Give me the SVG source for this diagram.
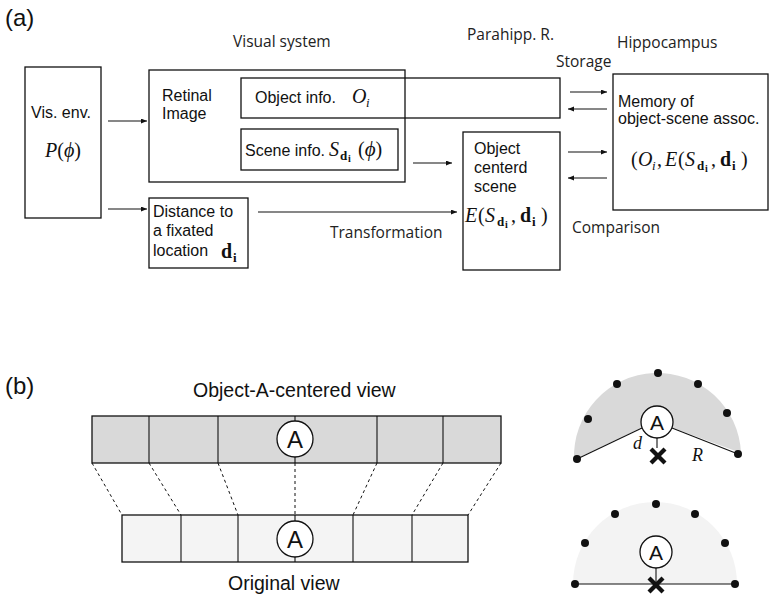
<svg xmlns="http://www.w3.org/2000/svg" width="769" height="601" viewBox="0 0 769 601">
<style>
.bx{fill:none;stroke:#111;stroke-width:1.3}
.ln{stroke:#111;stroke-width:1.1;fill:none}
.ar{stroke:#111;stroke-width:1.1;fill:none;marker-end:url(#ah)}
.h{font-family:"Liberation Sans",Arial,sans-serif;font-size:16px;fill:#111}
.big{font-family:"Liberation Sans",Arial,sans-serif;font-size:19.5px;fill:#111}
.pl{font-family:"Liberation Sans",Arial,sans-serif;font-size:24px;fill:#111}
.lab{font-family:"Open Sans","Noto Sans",sans-serif;font-size:15.5px;fill:#222}
.m{font-family:"Liberation Serif","DejaVu Serif",serif;font-size:20px;fill:#111}
.i{font-style:italic}
.sb{font-size:13px;font-weight:bold;font-style:normal}
.ssb{font-size:10px;font-weight:bold;font-style:normal}
.si{font-size:13px;font-style:italic}
.dash{stroke:#111;stroke-width:1;stroke-dasharray:3,3;fill:none}
.cir{fill:#fff;stroke:#111;stroke-width:1.3}
.ca{font-family:"Liberation Sans",Arial,sans-serif;font-size:24px;fill:#111;text-anchor:middle}
.cas{font-family:"Liberation Sans",Arial,sans-serif;font-size:21px;fill:#111;text-anchor:middle}
.dot{fill:#111}
.x{stroke:#111;stroke-width:4.2;stroke-linecap:butt}
</style>
<defs>
<marker id="ah" markerUnits="userSpaceOnUse" markerWidth="7" markerHeight="6" refX="6" refY="2.5" orient="auto">
<path d="M0,0 L6,2.5 L0,5 z" fill="#111"/>
</marker>
</defs>

<text class="pl" x="5" y="26">(a)</text>
<text class="lab" x="233" y="47">Visual system</text>
<text class="lab" x="467" y="40">Parahipp. R.</text>
<text class="lab" x="617" y="48">Hippocampus</text>
<text class="lab" x="556" y="67">Storage</text>
<text class="lab" x="330" y="238">Transformation</text>
<text class="lab" x="572" y="233">Comparison</text>

<g id="visenv">
<rect class="bx" x="25" y="67" width="76" height="151"/>
<text class="h" x="31" y="118">Vis. env.</text>
<text class="m" x="45" y="157"><tspan class="i">P</tspan>(<tspan class="i">ϕ</tspan>)</text>
</g>

<g id="retinal">
<rect class="bx" x="149" y="70" width="256" height="112"/>
<text class="h" x="162" y="101">Retinal</text>
<text class="h" x="162" y="119">Image</text>
</g>

<g id="objinfo">
<rect class="bx" x="241" y="78" width="319" height="40"/>
<text class="h" x="255" y="103">Object info.</text>
<text class="m" y="103"><tspan class="i" x="352">O</tspan><tspan class="si" x="366" y="107">i</tspan></text>
</g>

<g id="sceneinfo">
<rect class="bx" x="241" y="129" width="157" height="41"/>
<text class="h" x="245" y="156">Scene info.</text>
<text class="m" y="156"><tspan class="i" x="329">S</tspan><tspan class="sb" x="340" y="160">d</tspan><tspan class="ssb" x="348" y="162">i</tspan><tspan x="358" y="156">(</tspan><tspan class="i" style="font-size:21px">ϕ</tspan><tspan>)</tspan></text>
</g>

<g id="distance">
<rect class="bx" x="149" y="198" width="99" height="70"/>
<text class="h" x="153" y="217">Distance to</text>
<text class="h" x="153" y="236">a fixated</text>
<text class="h" x="153" y="256">location</text>
<text class="m" y="258"><tspan x="221" font-weight="bold">d</tspan><tspan class="sb" x="233" y="262">i</tspan></text>
</g>

<g id="objcentered">
<rect class="bx" x="463" y="132" width="97" height="138"/>
<text class="h" x="474" y="154">Object</text>
<text class="h" x="474" y="173">centerd</text>
<text class="h" x="474" y="192">scene</text>
<text class="m" y="222"><tspan class="i" x="465">E</tspan><tspan x="478">(</tspan><tspan class="i" x="485">S</tspan><tspan class="sb" x="497" y="226">d</tspan><tspan class="ssb" x="505" y="228">i</tspan><tspan x="511" y="222">,</tspan><tspan x="520" font-weight="bold">d</tspan><tspan class="sb" x="532" y="226">i</tspan><tspan x="541" y="222">)</tspan></text>
</g>

<g id="memory">
<rect class="bx" x="613" y="74" width="155" height="136"/>
<text class="h" x="618" y="107">Memory of</text>
<text class="h" x="618" y="124">object-scene assoc.</text>
<text class="m" y="166"><tspan x="631">(</tspan><tspan class="i" x="638">O</tspan><tspan class="si" x="652" y="170">i</tspan><tspan x="657" y="166">,</tspan><tspan class="i" x="665">E</tspan><tspan x="678">(</tspan><tspan class="i" x="685">S</tspan><tspan class="sb" x="697" y="170">d</tspan><tspan class="ssb" x="705" y="172">i</tspan><tspan x="711" y="166">,</tspan><tspan x="720" font-weight="bold">d</tspan><tspan class="sb" x="732" y="170">i</tspan><tspan x="741" y="166">)</tspan></text>
</g>

<g id="connectors">
<line class="ar" x1="108" y1="121" x2="147" y2="121"/>
<line class="ar" x1="108" y1="209" x2="147" y2="209"/>
<line class="ar" x1="258" y1="212" x2="457" y2="212"/>
<line class="ar" x1="413" y1="163" x2="452" y2="163"/>
<line class="ar" x1="570" y1="92" x2="607" y2="92"/>
<line class="ar" x1="607" y1="109" x2="568" y2="109"/>
<line class="ar" x1="568" y1="152" x2="607" y2="152"/>
<line class="ar" x1="607" y1="178" x2="568" y2="178"/>
</g>

<text class="pl" x="5" y="394">(b)</text>
<text class="big" x="193" y="397">Object-A-centered view</text>
<text class="big" x="228" y="590">Original view</text>

<g id="centered-view">
<rect x="92" y="416" width="409" height="47" fill="#d9d9d9" stroke="#111" stroke-width="1.3"/>
<line class="ln" x1="149" y1="416" x2="149" y2="463"/>
<line class="ln" x1="218" y1="416" x2="218" y2="463"/>
<line class="ln" x1="295" y1="416" x2="295" y2="463"/>
<line class="ln" x1="377" y1="416" x2="377" y2="463"/>
<line class="ln" x1="443" y1="416" x2="443" y2="463"/>
<circle class="cir" cx="295" cy="439" r="18"/>
<text class="ca" x="295" y="448">A</text>
</g>

<g id="original-view">
<rect x="122" y="515" width="346" height="47" fill="#f4f4f4" stroke="#111" stroke-width="1.3"/>
<line class="ln" x1="181" y1="515" x2="181" y2="562"/>
<line class="ln" x1="238" y1="515" x2="238" y2="562"/>
<line class="ln" x1="295" y1="515" x2="295" y2="562"/>
<line class="ln" x1="353" y1="515" x2="353" y2="562"/>
<line class="ln" x1="412" y1="515" x2="412" y2="562"/>
<circle class="cir" cx="295" cy="539" r="18"/>
<text class="ca" x="295" y="548">A</text>
</g>

<g id="mapping">
<line class="dash" x1="92" y1="463" x2="122" y2="515"/>
<line class="dash" x1="149" y1="463" x2="181" y2="515"/>
<line class="dash" x1="218" y1="463" x2="238" y2="515"/>
<line class="dash" x1="295" y1="463" x2="295" y2="515"/>
<line class="dash" x1="377" y1="463" x2="353" y2="515"/>
<line class="dash" x1="443" y1="463" x2="412" y2="515"/>
<line class="dash" x1="501" y1="463" x2="468" y2="515"/>
</g>

<g id="fan-centered">
<path d="M574,460 A83,83 0 0 1 741,453 L673,428 L641,428 Z" fill="#d9d9d9"/>
<line class="ln" x1="577" y1="459" x2="642" y2="428"/>
<line class="ln" x1="672" y1="428" x2="738" y2="454"/>
<line class="ln" x1="657" y1="438" x2="657" y2="448"/>
<circle class="cir" cx="657" cy="422" r="16"/>
<text class="cas" x="657" y="430">A</text>
<line class="x" x1="651" y1="449" x2="665" y2="463"/>
<line class="x" x1="665" y1="449" x2="651" y2="463"/>
<text class="m i" x="633" y="449" style="font-size:18px">d</text>
<text class="m i" x="692" y="461" style="font-size:18px">R</text>
<circle class="dot" cx="658" cy="373" r="4"/>
<circle class="dot" cx="617" cy="384" r="4"/>
<circle class="dot" cx="698" cy="384" r="4"/>
<circle class="dot" cx="588" cy="419" r="4"/>
<circle class="dot" cx="727" cy="413" r="4"/>
<circle class="dot" cx="577" cy="459" r="4"/>
<circle class="dot" cx="738" cy="454" r="4"/>
</g>

<g id="fan-original">
<path d="M573,584 A82,82 0 0 1 737,584 Z" fill="#f3f3f3"/>
<line class="ln" x1="575" y1="584" x2="735" y2="584"/>
<line class="ln" x1="656" y1="568" x2="656" y2="584"/>
<circle class="cir" cx="656" cy="552" r="16"/>
<text class="cas" x="656" y="560">A</text>
<line class="x" x1="649" y1="578" x2="663" y2="592"/>
<line class="x" x1="663" y1="578" x2="649" y2="592"/>
<circle class="dot" cx="656" cy="504" r="4"/>
<circle class="dot" cx="615" cy="514" r="4"/>
<circle class="dot" cx="695" cy="514" r="4"/>
<circle class="dot" cx="585" cy="543" r="4"/>
<circle class="dot" cx="725" cy="543" r="4"/>
<circle class="dot" cx="575" cy="584" r="4"/>
<circle class="dot" cx="735" cy="584" r="4"/>
</g>
</svg>
